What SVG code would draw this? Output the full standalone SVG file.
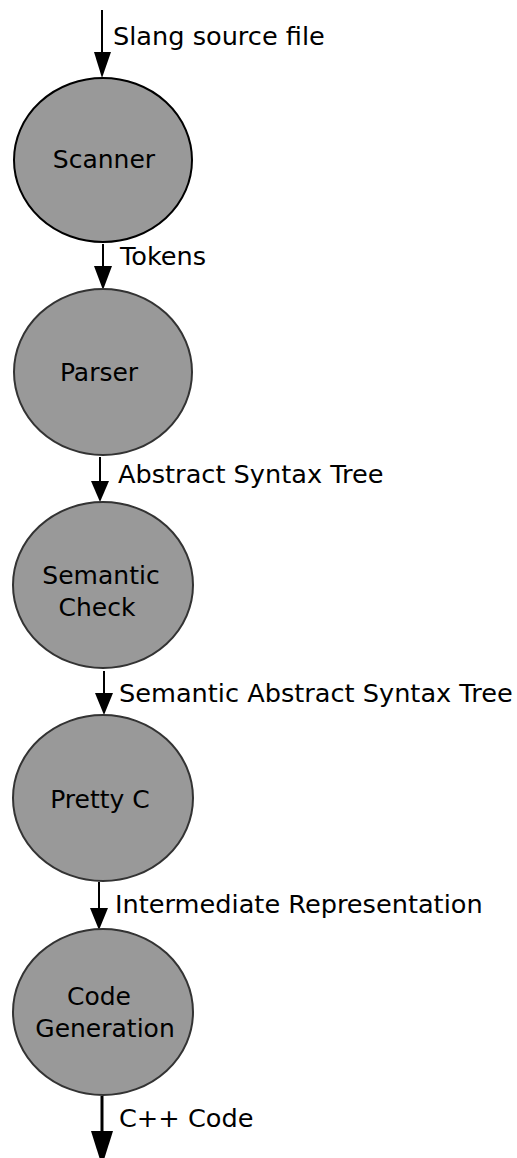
<svg xmlns="http://www.w3.org/2000/svg" width="517" height="1158" viewBox="0 0 517 1158">
<style>
  .node { fill: #999999; stroke: #333333; stroke-width: 2; }
  .first { stroke: #000000; }
  .lbl { font-family: "DejaVu Sans", sans-serif; font-size: 25.6px; fill: #000000; }
  .ntxt { font-family: "DejaVu Sans", sans-serif; font-size: 25px; fill: #000000; text-anchor: middle; }
  .edge { stroke: #000000; stroke-width: 2; fill: none; }
  .head { fill: #000000; }
</style>
<rect width="517" height="1158" fill="#ffffff"/>
<g id="connectors">
  <line class="edge" x1="102" y1="10" x2="102" y2="56"/>
  <polygon class="head" points="94,52 111,52 102,78"/>
  <line class="edge" x1="103" y1="244" x2="103" y2="270"/>
  <polygon class="head" points="94,266 112,266 103,290"/>
  <line class="edge" x1="100" y1="457" x2="100" y2="485"/>
  <polygon class="head" points="91,481 109,481 100,502"/>
  <line class="edge" x1="104" y1="671" x2="104" y2="697"/>
  <polygon class="head" points="95,693 113,693 104,715"/>
  <line class="edge" x1="99" y1="882" x2="99" y2="912"/>
  <polygon class="head" points="90,908 108,908 99,930"/>
  <line class="edge" x1="102" y1="1096" x2="102" y2="1135" style="stroke-width:3"/>
  <polygon class="head" points="91,1131 113,1131 102,1166"/>
</g>
<g id="labels">
  <text class="lbl" x="113" y="45">Slang source file</text>
  <text class="lbl" x="120" y="265">Tokens</text>
  <text class="lbl" x="118" y="483">Abstract Syntax Tree</text>
  <text class="lbl" x="119" y="702">Semantic Abstract Syntax Tree</text>
  <text class="lbl" x="115" y="913">Intermediate Representation</text>
  <text class="lbl" x="119" y="1127">C++ Code</text>
</g>
<g id="scanner">
  <ellipse class="node first" cx="103" cy="160" rx="89" ry="82"/>
  <text class="ntxt" x="104" y="168">Scanner</text>
</g>
<g id="parser">
  <ellipse class="node" cx="103" cy="372" rx="89" ry="83"/>
  <text class="ntxt" x="99" y="381">Parser</text>
</g>
<g id="semantic-check">
  <ellipse class="node" cx="103" cy="585" rx="90" ry="83"/>
  <text class="ntxt" x="101" y="584">Semantic</text>
  <text class="ntxt" x="97" y="616">Check</text>
</g>
<g id="pretty-c">
  <ellipse class="node" cx="103" cy="798" rx="90" ry="83"/>
  <text class="ntxt" x="100" y="808">Pretty C</text>
</g>
<g id="code-generation">
  <ellipse class="node" cx="103" cy="1012" rx="90" ry="83"/>
  <text class="ntxt" x="99" y="1005">Code</text>
  <text class="ntxt" x="105" y="1037">Generation</text>
</g>
</svg>
